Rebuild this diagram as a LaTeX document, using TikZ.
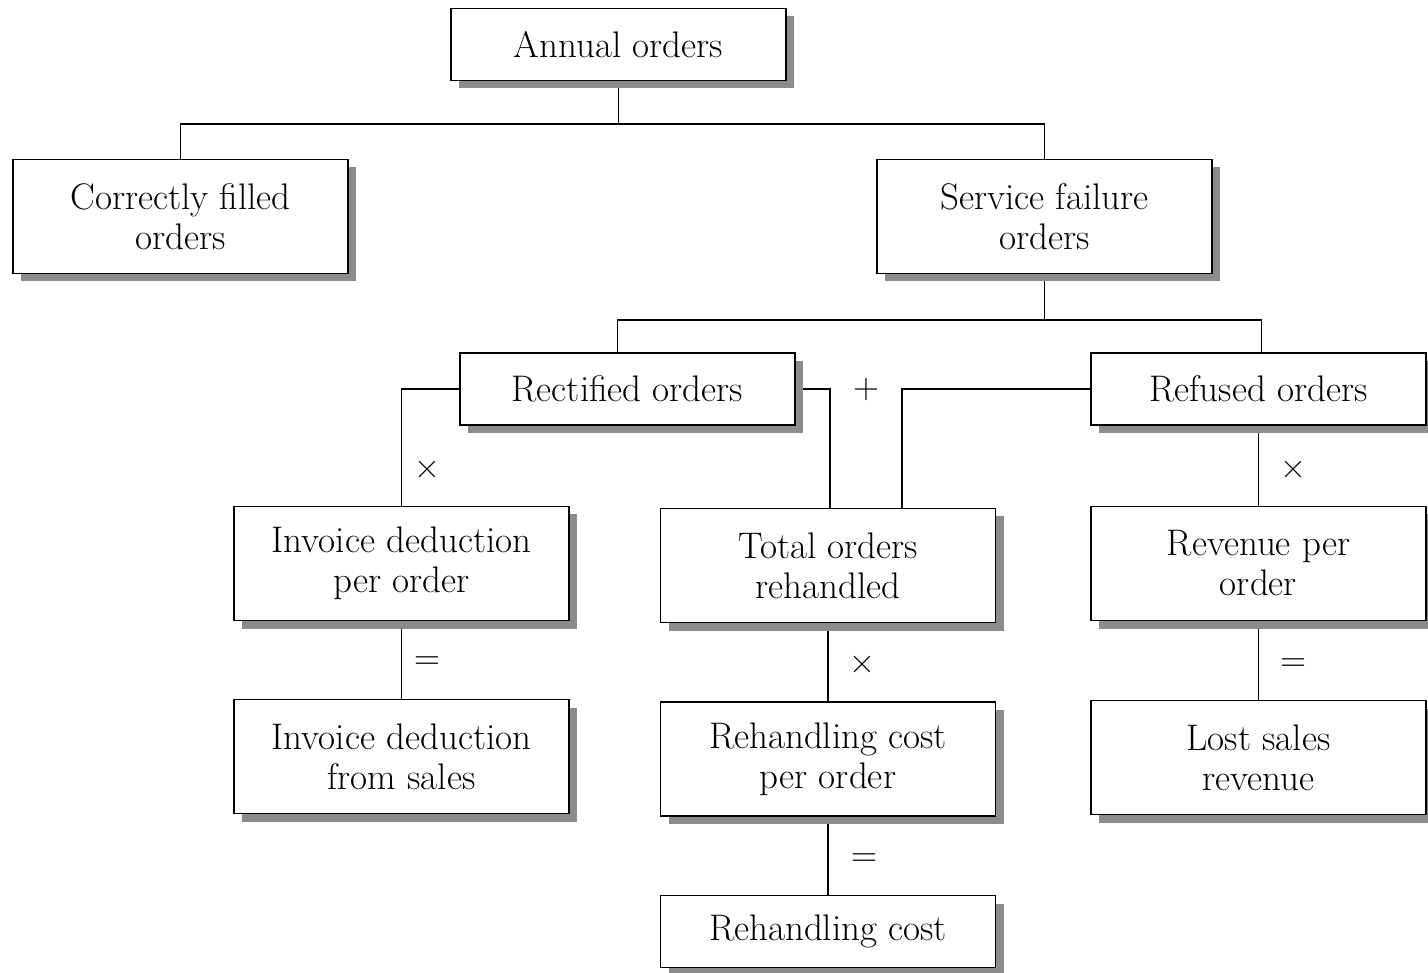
\documentclass[tikz,border=0pt]{standalone}
\usetikzlibrary{shadows,backgrounds}

\begin{document}
\begin{tikzpicture}[x=1pt, y=-1pt,
    box/.style={draw, line width=1.6pt, fill=white, inner sep=0pt, minimum width=335pt,
        minimum height=72pt, align=center, font=\fontsize{37}{40}\selectfont,
        drop shadow={shadow xshift=8pt, shadow yshift=-8pt, fill=black!45, opacity=1}},
    tallbox/.style={box, minimum height=114pt},
    link/.style={draw, line width=1.6pt},
    opsym/.style={font=\fontsize{36}{36}\selectfont}]
    \useasboundingbox (0,0) rectangle (1428,973);

    % Top level
    \node[box] (annual) at (618.5,44.5) {Annual orders};
    \node[tallbox] (correct) at (180.5,216.5) {Correctly filled\\orders};
    \node[tallbox] (service) at (1044.5,216.5) {Service failure\\orders};

    % Failure split
    \node[box] (rectified) at (627.5,389) {Rectified orders};
    \node[box] (refused) at (1258.5,389) {Refused orders};

    % Cost chains
    \node[tallbox] (invper) at (401.5,563.5) {Invoice deduction\\per order};
    \node[tallbox] (invsales) at (401.5,756.5) {Invoice deduction\\from sales};
    \node[tallbox] (total) at (828,565.5) {Total orders\\rehandled};
    \node[tallbox] (rhper) at (828,759) {Rehandling cost\\per order};
    \node[box] (rhcost) at (828,931.5) {Rehandling cost};
    \node[tallbox] (revper) at (1258.5,563.5) {Revenue per\\order};
    \node[tallbox] (lost) at (1258.5,757.5) {Lost sales\\revenue};

    % Connectors
    \coordinate (split1) at (annual.south |- 0,124);
    \coordinate (split2) at (service.south |- 0,320);
    \begin{scope}[on background layer]
        \draw[link] (annual.south) -- (split1);
        \draw[link] (correct.north) |- (split1) -| (service.north);
        \draw[link] (service.south) -- (split2);
        \draw[link] ([xshift=-10pt]rectified.north) |- (split2) -| ([xshift=3pt]refused.north);
        \draw[link] (rectified.west) -| (invper.north);
        \draw[link] (rectified.east) -| ([xshift=2pt]total.north);
        \draw[link] (refused.west) -| ([xshift=74pt]total.north);
        \draw[link] (refused.south) -- (revper.north);
        \draw[link] (invper.south) -- (invsales.north);
        \draw[link] (total.south) -- (rhper.north);
        \draw[link] (rhper.south) -- (rhcost.north);
        \draw[link] (revper.south) -- (lost.north);
    \end{scope}

    % Operators
    \node[opsym] (plus) at (866,390) {+};
    \node[opsym] (times1) at (427,470) {×};
    \node[opsym] (times2) at (862,665) {×};
    \node[opsym] (times3) at (1293,470) {×};
    \node[opsym] (eq1) at (427,663) {=};
    \node[opsym] (eq2) at (864,860) {=};
    \node[opsym] (eq3) at (1293,665) {=};
\end{tikzpicture}
\end{document}
